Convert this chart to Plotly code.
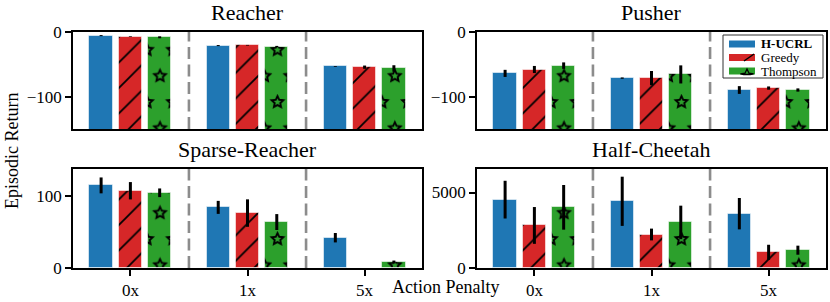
import math
import numpy as np
import plotly.graph_objects as go

W, H = 830, 302

# ---------------- data ----------------
penalties = ["0x", "1x", "5x"]
method_names = ["H-UCRL", "Greedy", "Thompson"]

reacher_hucrl = [-5.6, -21.0, -53.3]
reacher_hucrl_err = [0.8, 0.8, 0.6]
reacher_greedy = [-7.2, -20.5, -54.4]
reacher_greedy_err = [0.5, 0.5, 2.5]
reacher_thompson = [-8.2, -22.5, -56.4]
reacher_thompson_err = [1.5, 1.0, 5.0]

pusher_hucrl = [-64.0, -71.3, -89.7]
pusher_hucrl_err = [5.5, 1.0, 6.0]
pusher_greedy = [-58.0, -71.3, -86.7]
pusher_greedy_err = [5.5, 11.0, 2.5]
pusher_thompson = [-52.0, -65.6, -89.7]
pusher_thompson_err = [5.0, 14.0, 2.5]

sparse_hucrl = [114.3, 83.9, 41.9]
sparse_hucrl_err = [11.0, 9.0, 6.5]
sparse_greedy = [106.9, 76.0, 0.0]
sparse_greedy_err = [12.0, 19.0, 0.0]
sparse_thompson = [104.1, 63.6, 8.3]
sparse_thompson_err = [6.0, 11.0, 2.0]

cheetah_hucrl = [4530, 4420, 3600]
cheetah_hucrl_err = [1250, 1630, 1040]
cheetah_greedy = [2820, 2220, 1040]
cheetah_greedy_err = [1220, 390, 500]
cheetah_thompson = [4020, 3020, 1180]
cheetah_thompson_err = [1480, 1110, 300]

# ---------------- style / layout ----------------
colors = ["#1f77b4", "#d62728", "#2ca02c"]
offsets = [-0.25, 0.0, 0.25]
BAR_W = 0.2
FONT = "Liberation Serif, Times New Roman, serif"
XR = [-0.49, 2.49]
TICK_SIZE = 17


# ---- star hatch (open five-pointed stars) as a custom pattern path ----
def star_points(cx, cy, ro, ri):
    pts = []
    for k in range(10):
        ang = -math.pi / 2 + k * math.pi / 5
        r = ro if k % 2 == 0 else ri
        pts.append((cx + r * math.cos(ang), cy + r * math.sin(ang)))
    return pts


def offset_inward(pts, d):
    n = len(pts)
    area = sum(pts[i][0] * pts[(i + 1) % n][1] - pts[(i + 1) % n][0] * pts[i][1] for i in range(n)) / 2
    sgn = 1.0 if area > 0 else -1.0
    lines = []
    for i in range(n):
        (x0, y0), (x1, y1) = pts[i], pts[(i + 1) % n]
        dx, dy = x1 - x0, y1 - y0
        L = math.hypot(dx, dy)
        nx, ny = -dy / L * sgn, dx / L * sgn
        lines.append(((x0 + nx * d, y0 + ny * d), (dx, dy)))
    out = []
    for i in range(n):
        (p, r) = lines[i - 1]
        (q, s) = lines[i]
        den = r[0] * s[1] - r[1] * s[0]
        t = ((q[0] - p[0]) * s[1] - (q[1] - p[1]) * s[0]) / den
        out.append((p[0] + t * r[0], p[1] + t * r[1]))
    return out


def poly_path(pts):
    return "M" + "L".join(f"{x:.2f},{y:.2f}" for x, y in pts) + "Z"


STAR_TILE = 52.2
star_centres = [(8.7, 44.0), (34.8, 44.0), (21.75, 17.9), (47.85, 17.9)]
STAR_RO, STAR_RI, STAR_LW = 8.4, 4.0, 1.9
star_parts = []
for cx, cy in star_centres:
    for ox in (-STAR_TILE, 0, STAR_TILE):
        for oy in (-STAR_TILE, 0, STAR_TILE):
            x, y = cx + ox, cy + oy
            if x + STAR_RO < 0 or x - STAR_RO > STAR_TILE or y + STAR_RO < 0 or y - STAR_RO > STAR_TILE:
                continue
            outer = star_points(x, y, STAR_RO, STAR_RI)
            inner = offset_inward(outer, STAR_LW)[::-1]
            star_parts.append(poly_path(outer) + poly_path(inner))
STAR_PATH = "".join(star_parts)

panels = [
    dict(title="Reacher", means=[reacher_hucrl, reacher_greedy, reacher_thompson],
         errs=[reacher_hucrl_err, reacher_greedy_err, reacher_thompson_err],
         yrange=[-150, 0], tickvals=[-100, 0], ticktext=["\u2212100", "0"],
         box=(73, 422, 32, 129), xlabels=False),
    dict(title="Pusher", means=[pusher_hucrl, pusher_greedy, pusher_thompson],
         errs=[pusher_hucrl_err, pusher_greedy_err, pusher_thompson_err],
         yrange=[-150, 0], tickvals=[-100, 0], ticktext=["\u2212100", "0"],
         box=(477, 826, 32, 129), xlabels=False),
    dict(title="Sparse-Reacher", means=[sparse_hucrl, sparse_greedy, sparse_thompson],
         errs=[sparse_hucrl_err, sparse_greedy_err, sparse_thompson_err],
         yrange=[0, 137], tickvals=[0, 100], ticktext=["0", "100"],
         box=(73, 422, 169, 268), xlabels=True),
    dict(title="Half-Cheetah", means=[cheetah_hucrl, cheetah_greedy, cheetah_thompson],
         errs=[cheetah_hucrl_err, cheetah_greedy_err, cheetah_thompson_err],
         yrange=[0, 6560], tickvals=[0, 5000], ticktext=["0", "5000"],
         box=(477, 826, 169, 268), xlabels=True),
]

fig = go.Figure()
layout = dict(
    template="none",
    width=W, height=H, margin=dict(l=0, r=0, t=0, b=0, pad=0, autoexpand=False),
    paper_bgcolor="white", plot_bgcolor="white",
    font=dict(family=FONT, size=14, color="black"),
    showlegend=False, bargap=0,
)
shapes = []
annotations = []

for i, p in enumerate(panels):
    n = "" if i == 0 else str(i + 1)
    xa, ya = "x" + n, "y" + n
    x0p, x1p, y0p, y1p = p["box"]
    lo, hi = p["yrange"]
    base = lo - 0.5 * (hi - lo) if lo < 0 else 0.0

    for j in range(3):
        vals = np.array(p["means"][j], dtype=float)
        xs = np.arange(3) + offsets[j]
        marker = dict(color=colors[j], line=dict(color="rgba(255,255,255,0.55)", width=1))
        if j == 1:
            marker["pattern"] = dict(shape="/", fgcolor="black", bgcolor=colors[j],
                                     fgopacity=1, size=18, solidity=0.1)
        elif j == 2:
            marker["pattern"] = dict(path=STAR_PATH, fgcolor="black", bgcolor=colors[j],
                                     fgopacity=1, size=STAR_TILE)
        fig.add_trace(go.Bar(
            x=xs, y=vals - base, base=base, width=BAR_W, marker=marker,
            name=method_names[j], xaxis=xa, yaxis=ya,
            hovertext=[f"{method_names[j]} {penalties[k]}: {vals[k]}" for k in range(3)],
            hoverinfo="text",
        ))

    # error bars
    for j in range(3):
        xs = np.arange(3) + offsets[j]
        fig.add_trace(go.Scatter(
            x=xs, y=p["means"][j], mode="markers", xaxis=xa, yaxis=ya,
            marker=dict(size=1, color="rgba(0,0,0,0)"),
            error_y=dict(type="data", array=p["errs"][j], color="black", thickness=3, width=0),
            hoverinfo="skip", showlegend=False,
        ))

    layout["xaxis" + n] = dict(
        domain=[x0p / W, x1p / W], anchor=ya, range=XR, automargin=False,
        showline=True, mirror=True, linecolor="black", linewidth=1.5,
        showgrid=False, zeroline=False, fixedrange=True,
        tickvals=[0, 1, 2], ticktext=penalties,
        ticks="outside" if p["xlabels"] else "", showticklabels=p["xlabels"],
        ticklen=6, tickwidth=1.5, tickcolor="black", tickfont=dict(size=TICK_SIZE, family=FONT),
    )
    layout["yaxis" + n] = dict(
        domain=[1 - y1p / H, 1 - y0p / H], anchor=xa, range=[lo, hi], automargin=False,
        showline=True, mirror=True, linecolor="black", linewidth=1.5,
        showgrid=False, zeroline=False, fixedrange=True,
        tickvals=p["tickvals"], ticktext=p["ticktext"],
        ticks="outside", ticklen=6, tickwidth=1.5, tickcolor="black",
        tickfont=dict(size=TICK_SIZE, family=FONT),
    )
    for xv in (0.5, 1.5):
        shapes.append(dict(type="line", xref=xa, yref=ya + " domain", x0=xv, x1=xv, y0=0, y1=1,
                           line=dict(color="#8c8c8c", width=2.6, dash="12px,5.5px")))
    annotations.append(dict(text=p["title"], xref="paper", yref="paper",
                            x=(x0p + x1p) / 2 / W, y=1 - (y0p - 19.5) / H,
                            xanchor="center", yanchor="middle", showarrow=False,
                            font=dict(size=22, family=FONT)))

# axis labels
annotations.append(dict(text="Episodic Return", xref="paper", yref="paper", x=12 / W, y=1 - 151 / H,
                        textangle=-90, xanchor="center", yanchor="middle", showarrow=False,
                        font=dict(size=18, family=FONT)))
annotations.append(dict(text="Action Penalty", xref="paper", yref="paper", x=445.5 / W, y=1 - 287 / H,
                        xanchor="center", yanchor="middle", showarrow=False,
                        font=dict(size=18, family=FONT)))

# manual legend inside Pusher panel
lx0, lx1, ly0, ly1 = 723, 823, 35, 78
shapes.append(dict(type="rect", xref="paper", yref="paper", x0=lx0 / W, x1=lx1 / W,
                   y0=1 - ly1 / H, y1=1 - ly0 / H, line=dict(color="#333333", width=1),
                   fillcolor="white", layer="above"))
rows = [44, 57.5, 71]
for j in range(3):
    yc = rows[j]
    shapes.append(dict(type="rect", xref="paper", yref="paper", x0=729 / W, x1=755 / W,
                       y0=1 - (yc + 3.5) / H, y1=1 - (yc - 3.5) / H,
                       line=dict(width=0), fillcolor=colors[j], layer="above"))
    label = "<b>" + method_names[j] + "</b>" if j == 0 else method_names[j]
    annotations.append(dict(text=label, xref="paper", yref="paper", x=759 / W, y=1 - yc / H,
                            xanchor="left", yanchor="middle", showarrow=False,
                            font=dict(size=13, family=FONT)))
shapes.append(dict(type="line", xref="paper", yref="paper", x0=744 / W, x1=754 / W,
                   y0=1 - (rows[1] + 3.5) / H, y1=1 - (rows[1] - 3.5) / H,
                   line=dict(color="black", width=1.5), layer="above"))
# partial star on the Thompson legend swatch (only the part inside the swatch)
sw_bottom = rows[2] + 3.5
leg_star = star_points(747, rows[2] + 5.0, 7.0, 3.4)
shapes.append(dict(type="path", xref="paper", yref="paper",
                   path="M" + "L".join(f"{x / W:.5f},{1 - min(y, sw_bottom) / H:.5f}" for x, y in leg_star) + "Z",
                   line=dict(color="black", width=1.3), fillcolor="rgba(0,0,0,0)", layer="above"))

layout["shapes"] = shapes
layout["annotations"] = annotations
fig.update_layout(**layout)
fig.write_html(
    "out.html",
    config={"displayModeBar": False},
    post_script="document.body.style.margin='0px';document.body.style.padding='0px';"
                "document.body.style.overflow='hidden';",
)
